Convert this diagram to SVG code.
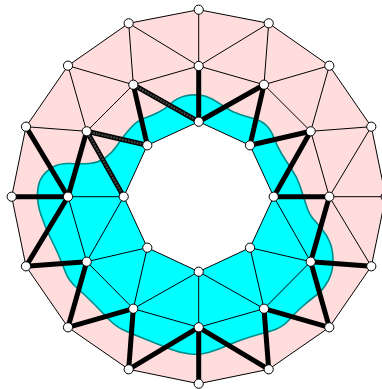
<svg xmlns="http://www.w3.org/2000/svg" width="382" height="389" viewBox="0 0 382 389">
<style>
.ring{fill:#ffdddd;stroke:#000;stroke-width:1}
.blob{fill:#00ffff;stroke:none}
.shore{fill:none;stroke:#008b8b;stroke-width:1.6}
.hole{fill:#fff;stroke:#000;stroke-width:1}
.t line{stroke:#000;stroke-width:1}
.k line{stroke:#000;stroke-width:5}
.hb line{stroke:#000;stroke-width:5}
.hg line{stroke:#444;stroke-width:2.2;stroke-dasharray:2 1}
circle{fill:#fff;stroke:#000;stroke-width:1}
</style>
<polygon class="ring" points="198.7,9.7 268.7,23.3 329.3,65.7 371.3,126.7 385.7,196.7 371.3,266.3 329.3,327.3 268.7,369.3 198.7,383.7 128.7,369.3 68,327.3 26,266.3 11.7,196.7 26,126.7 68,65.7 128.7,23.3"/>
<path id="blobfill" class="blob" d="M184,96.25Q191,94.5 198.5,95Q206,95.5 212.5,99.25Q219,103 225.5,107.5Q232,112 240,114.5Q248,117 255,119Q262,121 266.5,125.5Q271,130 274,138Q277,146 281.5,153.5Q286,161 291.5,169Q297,177 300,186Q303,195 306,204.5Q309,214 312.5,218Q316,222 321.5,228.5Q327,235 330,242.5Q333,250 333,261Q333,272 328,281Q323,290 316.5,295Q310,300 303,306Q296,312 289,320Q282,328 271,331Q260,334 250,337Q240,340 228.5,345Q217,350 208.5,352.5Q200,355 190,354Q180,353 170,349Q160,345 145,339Q130,333 122.5,329.5Q115,326 107.5,318Q100,310 92.5,302.5Q85,295 77,288Q69,281 66,273.5Q63,266 60,258.5Q57,251 51,239Q45,227 41,215Q37,203 37.5,193Q38,183 42,177Q46,171 53,167Q60,163 70,163.5Q80,164 89,163.5Q98,163 105,158Q112,153 116,147Q120,141 123.5,136.5Q127,132 132,126.5Q137,121 145,118Q153,115 159,112Q165,109 171,103.5Q177,98 184,96.25Z"/>
<path id="blobedge" class="shore" d="M184,96.25Q191,94.5 198.5,95Q206,95.5 212.5,99.25Q219,103 225.5,107.5Q232,112 240,114.5Q248,117 255,119Q262,121 266.5,125.5Q271,130 274,138Q277,146 281.5,153.5Q286,161 291.5,169Q297,177 300,186Q303,195 306,204.5Q309,214 312.5,218Q316,222 321.5,228.5Q327,235 330,242.5Q333,250 333,261Q333,272 328,281Q323,290 316.5,295Q310,300 303,306Q296,312 289,320Q282,328 271,331Q260,334 250,337Q240,340 228.5,345Q217,350 208.5,352.5Q200,355 190,354Q180,353 170,349Q160,345 145,339Q130,333 122.5,329.5Q115,326 107.5,318Q100,310 92.5,302.5Q85,295 77,288Q69,281 66,273.5Q63,266 60,258.5Q57,251 51,239Q45,227 41,215Q37,203 37.5,193Q38,183 42,177Q46,171 53,167Q60,163 70,163.5Q80,164 89,163.5Q98,163 105,158Q112,153 116,147Q120,141 123.5,136.5Q127,132 132,126.5Q137,121 145,118Q153,115 159,112Q165,109 171,103.5Q177,98 184,96.25Z"/>
<polygon class="hole" points="198.7,121.7 250,145.3 273.7,196.7 250,247.7 198.7,271.7 147.3,247.7 123.7,196.7 147.3,145.3"/>
<g id="connectors">
<g class="t">
<line x1="198.7" y1="9.7" x2="198.7" y2="66"/>
<line x1="268.7" y1="23.3" x2="198.7" y2="66"/>
<line x1="268.7" y1="23.3" x2="264" y2="84.7"/>
<line x1="329.3" y1="65.7" x2="264" y2="84.7"/>
<line x1="329.3" y1="65.7" x2="310.7" y2="131.3"/>
<line x1="371.3" y1="126.7" x2="310.7" y2="131.3"/>
<line x1="371.3" y1="126.7" x2="329.3" y2="196.7"/>
<line x1="385.7" y1="196.7" x2="329.3" y2="196.7"/>
<line x1="371.3" y1="266.3" x2="329.3" y2="196.7"/>
<line x1="26" y1="126.7" x2="86.7" y2="131.3"/>
<line x1="68" y1="65.7" x2="86.7" y2="131.3"/>
<line x1="68" y1="65.7" x2="133.3" y2="84.7"/>
<line x1="128.7" y1="23.3" x2="133.3" y2="84.7"/>
<line x1="128.7" y1="23.3" x2="198.7" y2="66"/>
<line x1="198.7" y1="66" x2="264" y2="84.7"/>
<line x1="264" y1="84.7" x2="310.7" y2="131.3"/>
<line x1="310.7" y1="131.3" x2="329.3" y2="196.7"/>
<line x1="310.7" y1="261.7" x2="264" y2="308.7"/>
<line x1="264" y1="308.7" x2="198.7" y2="327.3"/>
<line x1="198.7" y1="327.3" x2="133.3" y2="308.7"/>
<line x1="133.3" y1="308.7" x2="86.7" y2="261.7"/>
<line x1="86.7" y1="261.7" x2="68" y2="196.7"/>
<line x1="86.7" y1="131.3" x2="133.3" y2="84.7"/>
<line x1="133.3" y1="84.7" x2="198.7" y2="66"/>
<line x1="273.7" y1="196.7" x2="310.7" y2="261.7"/>
<line x1="250" y1="247.7" x2="310.7" y2="261.7"/>
<line x1="250" y1="247.7" x2="264" y2="308.7"/>
<line x1="198.7" y1="271.7" x2="264" y2="308.7"/>
<line x1="198.7" y1="271.7" x2="198.7" y2="327.3"/>
<line x1="198.7" y1="271.7" x2="133.3" y2="308.7"/>
<line x1="147.3" y1="247.7" x2="133.3" y2="308.7"/>
<line x1="147.3" y1="247.7" x2="86.7" y2="261.7"/>
<line x1="123.7" y1="196.7" x2="86.7" y2="261.7"/>
<line x1="123.7" y1="196.7" x2="68" y2="196.7"/>
</g>
<g class="k">
<line x1="371.3" y1="266.3" x2="310.7" y2="261.7"/>
<line x1="329.3" y1="327.3" x2="310.7" y2="261.7"/>
<line x1="329.3" y1="327.3" x2="264" y2="308.7"/>
<line x1="268.7" y1="369.3" x2="264" y2="308.7"/>
<line x1="268.7" y1="369.3" x2="198.7" y2="327.3"/>
<line x1="198.7" y1="383.7" x2="198.7" y2="327.3"/>
<line x1="128.7" y1="369.3" x2="198.7" y2="327.3"/>
<line x1="128.7" y1="369.3" x2="133.3" y2="308.7"/>
<line x1="68" y1="327.3" x2="133.3" y2="308.7"/>
<line x1="68" y1="327.3" x2="86.7" y2="261.7"/>
<line x1="26" y1="266.3" x2="86.7" y2="261.7"/>
<line x1="26" y1="266.3" x2="68" y2="196.7"/>
<line x1="11.7" y1="196.7" x2="68" y2="196.7"/>
<line x1="26" y1="126.7" x2="68" y2="196.7"/>
<line x1="329.3" y1="196.7" x2="310.7" y2="261.7"/>
<line x1="68" y1="196.7" x2="86.7" y2="131.3"/>
<line x1="198.7" y1="121.7" x2="198.7" y2="66"/>
<line x1="198.7" y1="121.7" x2="264" y2="84.7"/>
<line x1="250" y1="145.3" x2="264" y2="84.7"/>
<line x1="250" y1="145.3" x2="310.7" y2="131.3"/>
<line x1="273.7" y1="196.7" x2="310.7" y2="131.3"/>
<line x1="273.7" y1="196.7" x2="329.3" y2="196.7"/>
<line x1="147.3" y1="145.3" x2="133.3" y2="84.7"/>
</g>
<g class="hb">
<line x1="123.7" y1="196.7" x2="86.7" y2="131.3"/>
<line x1="147.3" y1="145.3" x2="86.7" y2="131.3"/>
<line x1="198.7" y1="121.7" x2="133.3" y2="84.7"/>
</g>
<g class="hg">
<line x1="123.7" y1="196.7" x2="86.7" y2="131.3"/>
<line x1="147.3" y1="145.3" x2="86.7" y2="131.3"/>
<line x1="198.7" y1="121.7" x2="133.3" y2="84.7"/>
</g>
</g>
<g id="o0"><circle cx="198.7" cy="9.7" r="4.6"/></g>
<g id="o1"><circle cx="268.7" cy="23.3" r="4.6"/></g>
<g id="o2"><circle cx="329.3" cy="65.7" r="4.6"/></g>
<g id="o3"><circle cx="371.3" cy="126.7" r="4.6"/></g>
<g id="o4"><circle cx="385.7" cy="196.7" r="4.6"/></g>
<g id="o5"><circle cx="371.3" cy="266.3" r="4.6"/></g>
<g id="o6"><circle cx="329.3" cy="327.3" r="4.6"/></g>
<g id="o7"><circle cx="268.7" cy="369.3" r="4.6"/></g>
<g id="o8"><circle cx="198.7" cy="383.7" r="4.6"/></g>
<g id="o9"><circle cx="128.7" cy="369.3" r="4.6"/></g>
<g id="o10"><circle cx="68" cy="327.3" r="4.6"/></g>
<g id="o11"><circle cx="26" cy="266.3" r="4.6"/></g>
<g id="o12"><circle cx="11.7" cy="196.7" r="4.6"/></g>
<g id="o13"><circle cx="26" cy="126.7" r="4.6"/></g>
<g id="o14"><circle cx="68" cy="65.7" r="4.6"/></g>
<g id="o15"><circle cx="128.7" cy="23.3" r="4.6"/></g>
<g id="m0"><circle cx="198.7" cy="66" r="4.6"/></g>
<g id="m1"><circle cx="264" cy="84.7" r="4.6"/></g>
<g id="m2"><circle cx="310.7" cy="131.3" r="4.6"/></g>
<g id="m3"><circle cx="329.3" cy="196.7" r="4.6"/></g>
<g id="m4"><circle cx="310.7" cy="261.7" r="4.6"/></g>
<g id="m5"><circle cx="264" cy="308.7" r="4.6"/></g>
<g id="m6"><circle cx="198.7" cy="327.3" r="4.6"/></g>
<g id="m7"><circle cx="133.3" cy="308.7" r="4.6"/></g>
<g id="m8"><circle cx="86.7" cy="261.7" r="4.6"/></g>
<g id="m9"><circle cx="68" cy="196.7" r="4.6"/></g>
<g id="m10"><circle cx="86.7" cy="131.3" r="4.6"/></g>
<g id="m11"><circle cx="133.3" cy="84.7" r="4.6"/></g>
<g id="i0"><circle cx="198.7" cy="121.7" r="4.6"/></g>
<g id="i1"><circle cx="250" cy="145.3" r="4.6"/></g>
<g id="i2"><circle cx="273.7" cy="196.7" r="4.6"/></g>
<g id="i3"><circle cx="250" cy="247.7" r="4.6"/></g>
<g id="i4"><circle cx="198.7" cy="271.7" r="4.6"/></g>
<g id="i5"><circle cx="147.3" cy="247.7" r="4.6"/></g>
<g id="i6"><circle cx="123.7" cy="196.7" r="4.6"/></g>
<g id="i7"><circle cx="147.3" cy="145.3" r="4.6"/></g>
</svg>
